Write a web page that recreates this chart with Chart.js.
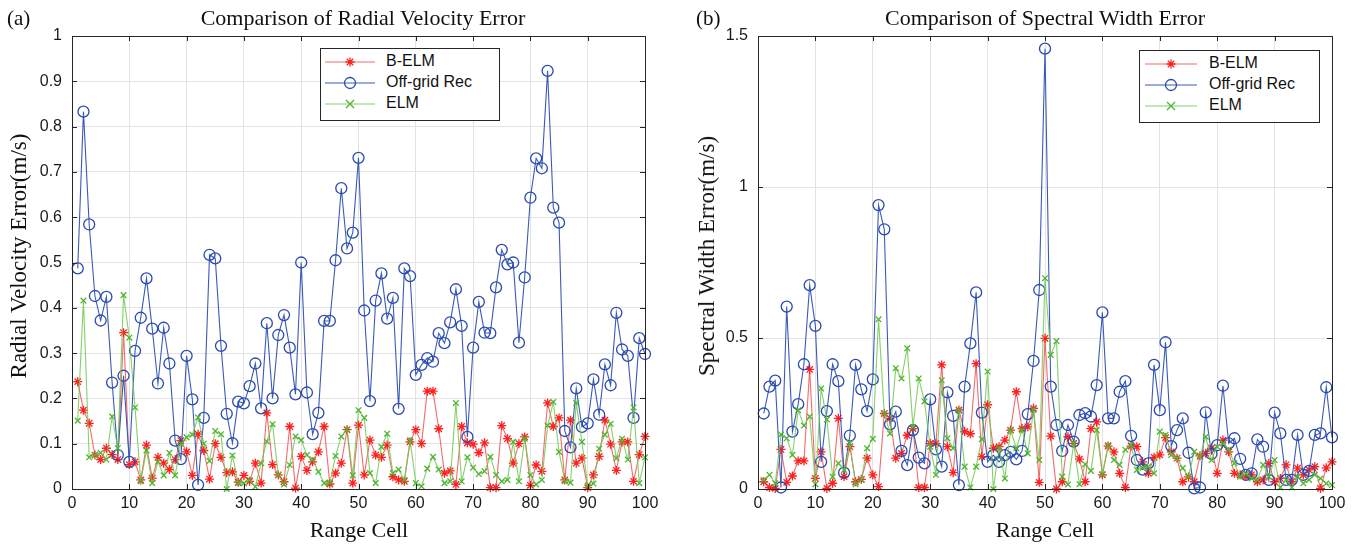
<!DOCTYPE html>
<html><head><meta charset="utf-8">
<script src="https://cdn.jsdelivr.net/npm/chart.js@4/dist/chart.umd.min.js"></script>
<style>
body{margin:0;background:#fff;}
#wrap{position:relative;width:1357px;height:546px;background:#fff;overflow:hidden;}
canvas{position:absolute;top:0;}
.t{position:absolute;font-family:"Liberation Serif","Times New Roman",serif;color:#111;white-space:nowrap;transform:translate(-50%,-50%);}
.lab{position:absolute;font-family:"Liberation Serif","Times New Roman",serif;color:#111;white-space:nowrap;}
.leg{position:absolute;border:1px solid #262626;background:#fff;}
.li{position:absolute;font-family:"Liberation Sans",Arial,sans-serif;font-size:16px;color:#111;white-space:nowrap;}
svg{position:absolute;overflow:visible;}
</style></head>
<body><div id="wrap">
<canvas id="ca" width="680" height="546" style="left:0"></canvas>
<canvas id="cb" width="677" height="546" style="left:680px"></canvas>
<div class="lab" style="left:7px;top:6px;font-size:21px;">(a)</div>
<div class="lab" style="left:696px;top:6px;font-size:21px;">(b)</div>
<div class="t" style="left:363px;top:18px;font-size:22px;">Comparison of Radial Velocity Error</div>
<div class="t" style="left:1045px;top:18px;font-size:22px;">Comparison of Spectral Width Error</div>
<div class="t" style="left:19px;top:256px;font-size:23px;transform:translate(-50%,-50%) rotate(-90deg);">Radial Velocity Error(m/s)</div>
<div class="t" style="left:707px;top:256px;font-size:23px;transform:translate(-50%,-50%) rotate(-90deg);">Spectral Width Error(m/s)</div>
<div class="t" style="left:359px;top:530px;font-size:22px;">Range Cell</div>
<div class="t" style="left:1045px;top:530px;font-size:22px;">Range Cell</div>
<div id="legA"></div><div id="legB"></div>
</div>
<script>
// ---------- data ----------
const seriesNames = ["B-ELM", "Off-grid Rec", "ELM"];
const xTicks = [0,10,20,30,40,50,60,70,80,90,100];
const xTickLabels = ["0","10","20","30","40","50","60","70","80","90","100"];
const yTicksA = [0,0.1,0.2,0.3,0.4,0.5,0.6,0.7,0.8,0.9,1];
const yTickLabelsA = ["0","0.1","0.2","0.3","0.4","0.5","0.6","0.7","0.8","0.9","1"];
const yTicksB = [0,0.5,1,1.5];
const yTickLabelsB = ["0","0.5","1","1.5"];

// (a) Radial velocity error, range cells 1..100
const rvBELM = [0.237,0.174,0.145,0.075,0.065,0.09,0.076,0.065,0.345,0.054,
0.06,0.02,0.097,0.024,0.07,0.057,0.043,0.065,0.107,0.082,
0.03,0.121,0.085,0.022,0.1,0.07,0.036,0.038,0.015,0.03,
0.017,0.057,0.013,0.168,0.054,0.031,0.016,0.138,0.002,0.072,
0.041,0.06,0.082,0.138,0.011,0.035,0.057,0.131,0.013,0.141,
0.031,0.108,0.075,0.07,0.097,0.027,0.02,0.017,0.104,0.131,
0.1,0.216,0.216,0.133,0.035,0.04,0.01,0.138,0.102,0.099,
0.08,0.102,0.003,0.003,0.14,0.111,0.057,0.1,0.115,0.008,
0.053,0.039,0.19,0.138,0.157,0.02,0.152,0.057,0.068,0.003,
0.031,0.072,0.152,0.099,0.041,0.104,0.104,0.017,0.076,0.116];
const rvOffGrid = [0.487,0.833,0.584,0.426,0.372,0.424,0.235,0.075,0.25,0.06,
0.305,0.378,0.465,0.354,0.233,0.356,0.277,0.107,0.066,0.294,
0.198,0.009,0.157,0.517,0.509,0.316,0.166,0.101,0.193,0.189,
0.227,0.277,0.178,0.366,0.2,0.34,0.384,0.312,0.209,0.5,
0.213,0.121,0.168,0.371,0.371,0.505,0.664,0.531,0.566,0.731,
0.394,0.194,0.416,0.476,0.376,0.422,0.177,0.487,0.47,0.252,
0.274,0.289,0.281,0.344,0.322,0.368,0.441,0.36,0.115,0.312,
0.413,0.345,0.344,0.445,0.528,0.496,0.5,0.323,0.467,0.643,
0.73,0.708,0.923,0.621,0.588,0.128,0.092,0.222,0.137,0.145,
0.242,0.164,0.275,0.229,0.389,0.308,0.294,0.157,0.333,0.298];
const rvELM = [0.151,0.416,0.07,0.075,0.08,0.065,0.16,0.09,0.428,0.334,
0.18,0.017,0.085,0.013,0.06,0.03,0.08,0.03,0.1,0.114,
0.12,0.158,0.1,0.062,0.128,0.121,0.0,0.074,0.013,0.013,
0.02,0.005,0.057,0.105,0.143,0.031,0.01,0.053,0.116,0.108,
0.075,0.065,0.038,0.013,0.014,0.073,0.116,0.131,0.03,0.174,
0.157,0.035,0.013,0.093,0.122,0.035,0.043,0.02,0.108,0.013,
0.006,0.045,0.071,0.043,0.013,0.017,0.19,0.017,0.07,0.047,
0.033,0.039,0.071,0.031,0.017,0.02,0.104,0.017,0.111,0.031,
0.01,0.02,0.14,0.192,0.082,0.017,0.014,0.19,0.104,0.008,
0.012,0.089,0.12,0.144,0.068,0.111,0.065,0.18,0.013,0.07];

// (b) Spectral width error, range cells 1..100
const swBELM = [0.024,0.005,0.002,0.131,0.022,0.043,0.093,0.093,0.396,0.035,
0.123,0.002,0.019,0.234,0.041,0.14,0.024,0.032,0.102,0.047,
0.008,0.25,0.234,0.102,0.118,0.178,0.2,0.005,0.005,0.151,
0.151,0.411,0.14,0.054,0.262,0.19,0.183,0.415,0.107,0.279,
0.135,0.14,0.162,0.195,0.322,0.2,0.206,0.267,0.022,0.499,
0.175,0.0,0.024,0.173,0.151,0.099,0.024,0.2,0.222,0.047,
0.142,0.123,0.052,0.005,0.142,0.14,0.09,0.052,0.105,0.113,
0.17,0.123,0.102,0.024,0.04,0.024,0.11,0.118,0.135,0.052,
0.162,0.123,0.052,0.047,0.041,0.047,0.024,0.03,0.085,0.024,
0.035,0.08,0.024,0.069,0.047,0.063,0.074,0.002,0.07,0.09];
const swOffGrid = [0.25,0.339,0.359,0.005,0.604,0.19,0.281,0.413,0.675,0.54,
0.09,0.258,0.413,0.357,0.054,0.177,0.411,0.33,0.258,0.363,
0.94,0.86,0.214,0.256,0.126,0.079,0.195,0.104,0.085,0.297,
0.131,0.074,0.32,0.242,0.013,0.339,0.482,0.651,0.253,0.09,
0.112,0.09,0.112,0.123,0.098,0.126,0.248,0.424,0.659,1.458,
0.339,0.212,0.126,0.212,0.157,0.245,0.251,0.24,0.344,0.585,
0.234,0.234,0.322,0.357,0.176,0.096,0.064,0.085,0.411,0.261,
0.486,0.142,0.195,0.234,0.12,0.002,0.005,0.254,0.116,0.145,
0.342,0.151,0.168,0.1,0.047,0.052,0.164,0.14,0.03,0.253,
0.184,0.03,0.03,0.179,0.047,0.06,0.179,0.184,0.337,0.171];
const swELM = [0.03,0.047,0.019,0.18,0.168,0.113,0.261,0.21,0.24,0.016,
0.333,0.23,0.041,0.085,0.063,0.151,0.016,0.03,0.135,0.166,
0.562,0.25,0.184,0.4,0.366,0.466,0.206,0.366,0.29,0.14,
0.047,0.36,0.168,0.135,0.26,0.074,0.005,0.074,0.165,0.389,
0.0,0.135,0.035,0.195,0.135,0.195,0.118,0.262,0.096,0.698,
0.444,0.49,0.041,0.015,0.151,0.016,0.082,0.06,0.195,0.049,
0.145,0.096,0.08,0.13,0.145,0.063,0.07,0.074,0.052,0.19,
0.179,0.113,0.102,0.069,0.041,0.123,0.107,0.173,0.096,0.14,
0.151,0.131,0.085,0.041,0.05,0.035,0.03,0.08,0.041,0.096,
0.005,0.03,0.005,0.041,0.019,0.03,0.047,0.035,0.018,0.013];

// ---------- styles ----------
const STY = [
  {line:'rgba(240,70,70,0.8)', mark:'#ff1f1f', shape:'star', r:4.5, order:3},
  {line:'#3a5ab8', mark:'#2b4aae', shape:'circle', r:5.5, order:2},
  {line:'rgba(110,200,80,0.85)', mark:'#4fb52f', shape:'crossRot', r:4, order:1}
];
const AXC = '#262626';

function toXY(arr){ return arr.map((v,i)=>({x:i+1,y:v})); }
function makeDatasets(list){
  return list.map((arr,k)=>({
    label: seriesNames[k], data: toXY(arr), order: STY[k].order,
    borderColor: STY[k].line, borderWidth: 1.1,
    pointStyle: STY[k].shape, pointRadius: STY[k].r,
    pointBorderColor: STY[k].mark, pointBackgroundColor:'rgba(0,0,0,0)',
    pointBorderWidth: 1.3, tension:0, clip:false, fill:false
  }));
}

const boxPlugin = {
  id:'boxTicks',
  afterDraw(chart){
    const {ctx, chartArea:a, scales:{x,y}} = chart;
    ctx.save();
    ctx.strokeStyle = AXC; ctx.lineWidth = 1;
    ctx.beginPath();
    const L = 5;
    x.ticks.forEach(t=>{
      const px = Math.round(x.getPixelForValue(t.value))+0.5;
      ctx.moveTo(px, a.bottom); ctx.lineTo(px, a.bottom-L);
      ctx.moveTo(px, a.top); ctx.lineTo(px, a.top+L);
    });
    y.ticks.forEach(t=>{
      const py = Math.round(y.getPixelForValue(t.value))+0.5;
      ctx.moveTo(a.left, py); ctx.lineTo(a.left+L, py);
      ctx.moveTo(a.right, py); ctx.lineTo(a.right-L, py);
    });
    ctx.stroke();
    ctx.strokeRect(Math.round(a.left)+0.5, Math.round(a.top)+0.5, Math.round(a.right-a.left), Math.round(a.bottom-a.top));
    ctx.restore();
  }
};

function makeChart(id, list, yMax, yTicks, yLabels, padRight, yWidth){
  const tickFont = {family:'"Liberation Sans", Arial, sans-serif', size:16};
  return new Chart(document.getElementById(id), {
    type:'line',
    data:{datasets: makeDatasets(list)},
    options:{
      responsive:false, animation:false, events:[],
      layout:{padding:{top:36, right:padRight, bottom:27, left:0}},
      plugins:{legend:{display:false}, tooltip:{enabled:false}},
      scales:{
        x:{type:'linear', min:0, max:100,
          afterBuildTicks: s=>{ s.ticks = xTicks.map(v=>({value:v})); },
          ticks:{font:tickFont, color:'#1a1a1a', padding:5, maxRotation:0, autoSkip:false,
            callback:(v)=>xTickLabels[xTicks.indexOf(v)]},
          grid:{color:'#e3e3e3', lineWidth:1, drawTicks:false},
          border:{display:false},
          afterFit: s=>{ s.height = 30; }
        },
        y:{type:'linear', min:0, max:yMax,
          afterBuildTicks: s=>{ s.ticks = yTicks.map(v=>({value:v})); },
          ticks:{font:tickFont, color:'#1a1a1a', padding:10, autoSkip:false,
            callback:(v)=>yLabels[yTicks.indexOf(v)]},
          grid:{color:'#e3e3e3', lineWidth:1, drawTicks:false},
          border:{display:false},
          afterFit: s=>{ s.width = yWidth; }
        }
      }
    },
    plugins:[boxPlugin]
  });
}

makeChart('ca', [rvBELM, rvOffGrid, rvELM], 1, yTicksA, yTickLabelsA, 35, 72);
makeChart('cb', [swBELM, swOffGrid, swELM], 1.5, yTicksB, yTickLabelsB, 25, 78);

// ---------- legends ----------
function symbolSVG(k, cx, cy){
  const s = STY[k]; let m = '';
  if (s.shape==='circle') m = `<circle cx="${cx}" cy="${cy}" r="5.5" fill="none" stroke="${s.mark}" stroke-width="1.3"/>`;
  else if (s.shape==='crossRot') m = `<path d="M${cx-4} ${cy-4}L${cx+4} ${cy+4}M${cx-4} ${cy+4}L${cx+4} ${cy-4}" stroke="${s.mark}" stroke-width="1.3"/>`;
  else m = `<path d="M${cx-4.5} ${cy}L${cx+4.5} ${cy}M${cx} ${cy-4.5}L${cx} ${cy+4.5}M${cx-3.2} ${cy-3.2}L${cx+3.2} ${cy+3.2}M${cx-3.2} ${cy+3.2}L${cx+3.2} ${cy-3.2}" stroke="${s.mark}" stroke-width="1.3"/>`;
  return m;
}
function buildLegend(id, box, lineX0, lineX1, textX, rowsY){
  const el = document.getElementById(id);
  let html = `<div class="leg" style="left:${box[0]}px;top:${box[1]}px;width:${box[2]-box[0]}px;height:${box[3]-box[1]}px;"></div>`;
  let svg = `<svg width="1357" height="546" style="left:0;top:0">`;
  const cx = (lineX0+lineX1)/2;
  seriesNames.forEach((n,k)=>{
    const y = rowsY[k];
    svg += `<line x1="${lineX0}" y1="${y}" x2="${lineX1}" y2="${y}" stroke="${STY[k].line}" stroke-width="1.2"/>`;
    svg += symbolSVG(k, cx, y);
    html += `<div class="li" style="left:${textX}px;top:${y-10}px;">${n}</div>`;
  });
  svg += `</svg>`;
  el.innerHTML = html + svg;
}
buildLegend('legA', [320,48,498,119], 325, 375, 386, [62,83,104]);
buildLegend('legB', [1139,50,1318,121], 1145, 1197, 1209, [64,85,106]);
</script>
</body></html>
